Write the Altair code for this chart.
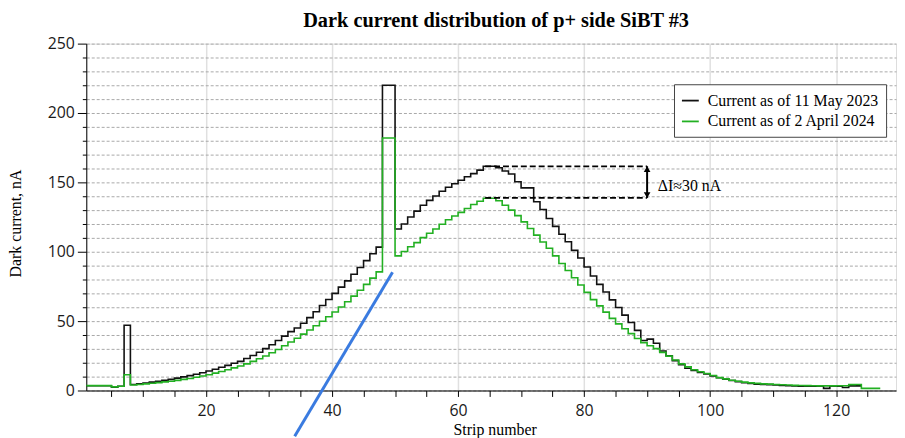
import altair as alt
import pandas as pd

TITLE = "Dark current distribution of p+ side SiBT #3"
SERIES = ["Current as of 11 May 2023", "Current as of 2 April 2024"]
COLORS = ["#111111", "#22b022"]

# dark current per strip (strip 1 .. N), nA
black_vals = [
    3.4, 3.4, 3.4, 3.4, 2.4, 3.0, 47.0, 4.3, 4.8, 5.4,
    6.0, 6.6, 7.3, 8.0, 8.9, 9.8, 10.7, 11.7, 12.8, 14.0,
    15.3, 16.7, 18.1, 19.6, 21.0, 23.0, 25.2, 27.6, 30.2, 33.0,
    36.0, 39.2, 42.4, 45.0, 48.5, 52.5, 56.8, 61.2, 65.6, 70.0,
    74.5, 79.0, 83.8, 88.7, 93.6, 98.5, 103.3, 220.0, 220.0, 116.4,
    120.0, 125.0, 129.3, 133.5, 137.0, 140.2, 143.6, 146.5, 149.0, 151.5,
    154.0, 156.3, 158.8, 161.6, 161.6, 160.5, 158.2, 156.0, 150.5, 146.0,
    146.0, 136.0, 130.5, 124.0, 118.3, 112.6, 107.2, 101.0, 95.5, 89.0,
    82.5, 76.5, 71.0, 65.3, 59.8, 54.3, 49.0, 43.3, 36.0, 37.0,
    34.0, 28.5, 25.0, 21.5, 18.5, 16.0, 14.5, 13.0, 12.0, 10.5,
    9.2, 8.2, 7.2, 6.4, 5.6, 5.1, 4.6, 4.4, 4.2, 3.9,
    3.7, 3.4, 3.2, 3.1, 3.1, 3.1, 3.1, 1.5, 3.1, 3.1,
    2.1, 3.3, 3.3,
]
green_vals = [
    3.5, 3.5, 3.5, 3.5, 2.6, 3.1, 11.4, 4.0, 4.3, 4.8,
    5.2, 5.7, 6.2, 6.7, 7.3, 8.0, 8.7, 9.5, 10.4, 11.4,
    12.5, 13.7, 15.0, 16.3, 17.6, 19.2, 21.0, 22.9, 24.9, 27.2,
    29.6, 32.2, 34.9, 37.7, 40.6, 43.6, 46.7, 49.9, 53.2, 56.6,
    60.2, 64.0, 68.0, 72.2, 76.5, 81.0, 85.5, 182.0, 182.0, 97.0,
    100.2, 103.6, 106.6, 110.2, 113.3, 116.4, 119.8, 123.0, 125.8, 128.4,
    131.2, 134.0, 136.4, 138.6, 138.6, 136.8, 133.5, 130.0, 126.0, 121.5,
    116.8, 112.0, 107.0, 102.5, 97.0, 91.5, 86.5, 81.3, 76.0, 70.7,
    65.5, 61.0, 56.5, 52.0, 48.0, 44.5, 41.0, 37.5, 34.5, 32.3,
    30.2, 27.5, 24.8, 22.0, 19.2, 17.0, 15.0, 13.5, 12.2, 10.8,
    9.3, 8.4, 7.4, 6.7, 6.0, 5.5, 5.1, 4.8, 4.6, 4.3,
    4.1, 3.9, 3.7, 3.6, 3.5, 3.4, 3.3, 3.3, 3.3, 3.4,
    3.4, 4.2, 4.3, 1.5, 1.5, 1.5,
]

# annotation values (data units)
delta_start = [64.3, 64.3]
delta_end = [90.0, 90.0]
delta_levels = [161.6, 138.8]
arrow_x = [90.0]
delta_text = ["\u0394I\u224830 nA"]
delta_text_x = [91.7]
delta_text_y = [147.0]
blue_x = [34.07, 49.6]
blue_y = [-32.9, 85.2]

X_TICKS = list(range(5, 130, 5))
Y_TICKS = list(range(0, 251, 10))


def steps(vals, name):
    xs = list(range(1, len(vals) + 1)) + [len(vals) + 1]
    ys = list(vals) + [vals[-1]]
    return pd.DataFrame({"strip": xs, "current": ys, "series": name})


df_black = steps(black_vals, SERIES[0])
df_green = steps(green_vals, SERIES[1])

xs = alt.Scale(domain=[1, 129.5], nice=False, zero=False)
ys = alt.Scale(domain=[0, 250], nice=False, zero=False)
cs = alt.Scale(domain=SERIES, range=COLORS)

x_axis = alt.Axis(
    values=X_TICKS, tickCount=500, format="d",
    labelExpr="datum.value % 20 === 0 ? datum.label : ''",
    tickSize=6, tickColor="black", domainColor="black", domainWidth=1,
    grid=True, gridColor="#e0e0e0", gridWidth=1.5,
    gridOpacity={"condition": {"test": "datum.value % 20 === 0", "value": 1}, "value": 0},
    labelFont="Open Sans", labelFontSize=16, labelColor="#1a1a1a", labelPadding=6,
    labelFlush=False, labelOverlap=False,
    title="Strip number", titleFont="Liberation Serif", titleFontSize=16,
    titleFontWeight="normal", titleColor="black",
    titleX=412, titleY=39, titleAlign="center", titleBaseline="middle",
)
y_axis = alt.Axis(
    values=Y_TICKS, tickCount=500, format="d",
    labelExpr="datum.value % 50 === 0 ? datum.label : ''",
    tickSize={"condition": {"test": "datum.value % 50 === 0", "value": 9}, "value": 4},
    tickColor="black", domainColor="black", domainWidth=1,
    grid=True, gridColor="#a8a8a8", gridDash=[3, 2], gridWidth=1,
    labelFont="Open Sans", labelFontSize=16, labelColor="#1a1a1a", labelPadding=3,
    labelOverlap=False, labelFlush=False,
    title="Dark current, nA", titleFont="Liberation Serif", titleFontSize=16,
    titleFontWeight="normal", titleColor="black",
    titleAngle=-90, titleX=-71, titleY=181, titleAlign="center", titleBaseline="middle",
)
legend = alt.Legend(
    orient="none", legendX=593, legendY=41, title=None,
    fillColor="white", strokeColor="#444444", padding=7,
    labelFont="Liberation Serif", labelFontSize=16, labelColor="black", labelLimit=400,
    symbolType="stroke", symbolSize=289, symbolStrokeWidth=1.8,
    rowPadding=3, labelOffset=8,
)

base_black = alt.Chart(df_black).mark_line(interpolate="step-after", strokeWidth=1.6).encode(
    x=alt.X("strip:Q", scale=xs, axis=x_axis),
    y=alt.Y("current:Q", scale=ys, axis=y_axis),
    color=alt.Color("series:N", scale=cs, legend=legend),
)
base_green = alt.Chart(df_green).mark_line(interpolate="step-after", strokeWidth=1.6).encode(
    x=alt.X("strip:Q", scale=xs),
    y=alt.Y("current:Q", scale=ys),
    color=alt.Color("series:N", scale=cs, legend=legend),
)

df_dash = pd.DataFrame({"strip": delta_start, "strip2": delta_end, "current": delta_levels})
dashes = alt.Chart(df_dash).mark_rule(color="black", strokeDash=[6, 3], strokeWidth=1.8).encode(
    x=alt.X("strip:Q", scale=xs), x2="strip2:Q", y=alt.Y("current:Q", scale=ys)
)

df_arrow = pd.DataFrame({"strip": arrow_x, "current": [delta_levels[1]], "current2": [delta_levels[0]]})
arrow = alt.Chart(df_arrow).mark_rule(color="black", strokeWidth=2).encode(
    x=alt.X("strip:Q", scale=xs), y=alt.Y("current:Q", scale=ys), y2="current2:Q"
)
df_head_up = pd.DataFrame({"strip": arrow_x, "current": [delta_levels[0] - 2.0]})
df_head_dn = pd.DataFrame({"strip": arrow_x, "current": [delta_levels[1] + 2.0]})
head_up = alt.Chart(df_head_up).mark_point(shape="triangle-up", filled=True, color="black", size=45, opacity=1).encode(
    x=alt.X("strip:Q", scale=xs), y=alt.Y("current:Q", scale=ys)
)
head_dn = alt.Chart(df_head_dn).mark_point(shape="triangle-down", filled=True, color="black", size=45, opacity=1).encode(
    x=alt.X("strip:Q", scale=xs), y=alt.Y("current:Q", scale=ys)
)

df_text = pd.DataFrame({"strip": delta_text_x, "current": delta_text_y, "label": delta_text})
label = alt.Chart(df_text).mark_text(
    align="left", baseline="middle", font="Liberation Serif", fontSize=16, color="black"
).encode(x=alt.X("strip:Q", scale=xs), y=alt.Y("current:Q", scale=ys), text="label:N")

df_blue = pd.DataFrame({"strip": blue_x, "current": blue_y})
blue = alt.Chart(df_blue).mark_line(color="#3a7be0", strokeWidth=3, clip=False).encode(
    x=alt.X("strip:Q", scale=xs), y=alt.Y("current:Q", scale=ys)
)

chart = alt.layer(
    base_black, base_green, dashes, arrow, head_up, head_dn, label, blue
).properties(
    width=817,
    height=350,
    autosize=alt.AutoSizeParams(type="none"),
    padding={"left": 79, "top": 34, "right": 1, "bottom": 46},
    title=alt.Title(
        TITLE, font="Liberation Serif", fontSize=20.5, fontWeight="bold", color="black",
        anchor="middle", frame="group", offset=4, dx=5,
    ),
).configure_view(stroke=None).configure(background="white")

chart.save("out.html", embed_options={"renderer": "svg", "actions": False})
